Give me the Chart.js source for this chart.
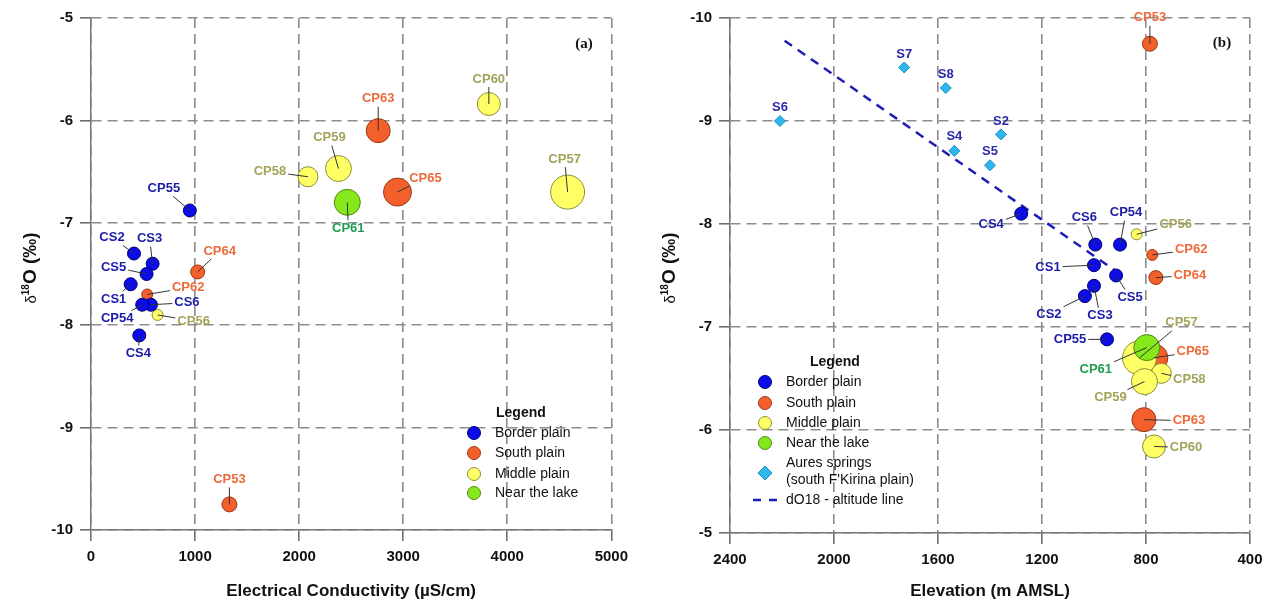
<!DOCTYPE html>
<html>
<head>
<meta charset="utf-8">
<script src="https://cdn.jsdelivr.net/npm/chart.js@4.4.0/dist/chart.umd.min.js"></script>
<style>
    html, body { margin: 0; padding: 0; background: #fff; }
    #wrap { position: relative; width: 1270px; height: 605px; }
    canvas { position: absolute; top: 0; }
</style>
</head>
<body>
<div id="wrap">
    <canvas id="ecChart" width="635" height="605" style="left:0"></canvas>
    <canvas id="elevChart" width="635" height="605" style="left:635px"></canvas>
</div>
<script>
// groundwater samples
var samples   = ['CS1', 'CS2', 'CS3', 'CS4', 'CS5', 'CS6', 'CP54', 'CP55',
                 'CP53', 'CP62', 'CP63', 'CP64', 'CP65',
                 'CP56', 'CP57', 'CP58', 'CP59', 'CP60', 'CP61'];
var zone      = ['border', 'border', 'border', 'border', 'border', 'border', 'border', 'border',
                 'south', 'south', 'south', 'south', 'south',
                 'middle', 'middle', 'middle', 'middle', 'middle', 'lake'];
var ec        = [381, 413, 592, 464, 534, 576, 492, 950,
                 1330, 540, 2760, 1025, 2945,
                 640, 4580, 2085, 2378, 3823, 2463];
var d18O      = [-7.6, -7.3, -7.4, -8.1, -7.5, -7.8, -7.8, -6.88,
                 -9.75, -7.7, -6.1, -7.48, -6.7,
                 -7.9, -6.7, -6.55, -6.47, -5.84, -6.8];
var elevation = [1000, 1035, 1000, 1280, 915, 995, 900, 950,
                 785, 776, 808, 762, 770,
                 836, 825, 741, 806, 769, 797];
var dotSize   = [6.5, 6.5, 6.5, 6.5, 6.5, 6.5, 6.5, 6.5,
                 7.5, 5.5, 12, 7, 14,
                 5.5, 17, 10, 13, 11.5, 13];

// Aures springs (south F'Kirina plain)
var springs    = ['S2', 'S4', 'S5', 'S6', 'S7', 'S8'];
var springElev = [1358, 1537, 1400, 2208, 1730, 1570];
var springD18O = [-8.87, -8.71, -8.57, -9.0, -9.52, -9.32];

// dO18 - altitude line
var lineElev = [2190, 920];
var lineD18O = [-9.78, -7.55];

var ecTicks   = [0, 1000, 2000, 3000, 4000, 5000];
var elevTicks = [2400, 2000, 1600, 1200, 800, 400];
var d18OTicks = [-10, -9, -8, -7, -6, -5];

var zones = [
    { key: 'border', label: 'Border plain', fill: '#0c0ceb', stroke: '#00006a', text: '#1c1ca8', order: 1 },
    { key: 'south',  label: 'South plain',  fill: '#f4602c', stroke: '#973816', text: '#ee6a3c', order: 4 },
    { key: 'middle', label: 'Middle plain', fill: '#ffff66', stroke: '#8c8c3c', text: '#a3a35a', order: 3 },
    { key: 'lake',   label: 'Near the lake', fill: '#86e81a', stroke: '#4c8a10', text: '#1e9c50', order: 2 }
];

function zoneDatasets(xValues) {
    return zones.map(function (z) {
        var pts = [], names = [];
        samples.forEach(function (s, i) {
            if (zone[i] !== z.key) return;
            pts.push({ x: xValues[i], y: d18O[i], r: dotSize[i] });
            names.push(s);
        });
        return {
            type: 'bubble', label: z.label, data: pts, names: names,
            backgroundColor: z.fill, borderColor: z.stroke, borderWidth: 1,
            labelColor: z.text, order: z.order
        };
    });
}

// where each name sits relative to its point
var ecLabelPos = {
    CS2: [-22, -16], CS3: [-3, -25], CS5: [-33, -7], CS1: [-17, 15], CP62: [41, -7],
    CS6: [36, -2], CP54: [-25, 14], CP56: [36, 6], CS4: [-1, 18], CP64: [22, -21],
    CP55: [-26, -22], CP53: [0, -25], CP63: [0, -32], CP60: [0, -25], CP59: [-9, -31],
    CP58: [-38, -5], CP61: [1, 26], CP65: [28, -14], CP57: [-3, -33]
};
var elevLabelPos = {
    CS4: [-30, 11], CS6: [-11, -27], CP54: [6, -32], CP56: [39, -10], CP62: [39, -5],
    CP64: [34, -2], CS1: [-46, 2], CS5: [14, 22], CS3: [6, 30], CS2: [-36, 18],
    CP55: [-37, 0], CP57: [42, -35], CP65: [39, -6], CP61: [-51, 22], CP58: [28, 6],
    CP59: [-34, 16], CP63: [45, 1], CP60: [32, 1], CP53: [0, -26],
    S2: [0, -13], S4: [0, -14], S5: [0, -14], S6: [0, -14], S7: [0, -13], S8: [0, -14]
};

// names + leader lines
var pointLabels = {
    id: 'pointLabels',
    afterDatasetsDraw: function (chart, args, opts) {
        var ctx = chart.ctx;
        ctx.save();
        ctx.font = 'bold 13px Arial';
        ctx.textAlign = 'center';
        ctx.textBaseline = 'middle';
        chart.data.datasets.forEach(function (ds, di) {
            if (!ds.names) return;
            var meta = chart.getDatasetMeta(di);
            ds.names.forEach(function (name, j) {
                var off = opts.pos[name];
                if (!off) return;
                var p = meta.data[j];
                var tx = p.x + off[0], ty = p.y + off[1];
                if (!ds.noLeader) {
                    var hw = ctx.measureText(name).width / 2 + 2, hh = 8;
                    var dx = tx - p.x, dy = ty - p.y;
                    var s = Math.max(Math.abs(dx) / hw, Math.abs(dy) / hh);
                    if (s > 1) {
                        ctx.strokeStyle = '#333';
                        ctx.lineWidth = 1;
                        ctx.beginPath();
                        ctx.moveTo(p.x, p.y);
                        ctx.lineTo(tx - dx / s, ty - dy / s);
                        ctx.stroke();
                    }
                }
                ctx.fillStyle = ds.labelColor;
                ctx.fillText(name, tx, ty);
            });
        });
        ctx.restore();
    }
};

// legend box, y-axis title and panel letter
var panelDecor = {
    id: 'panelDecor',
    afterDraw: function (chart, args, opts) {
        var ctx = chart.ctx;
        ctx.save();
        ctx.textBaseline = 'middle';
        ctx.textAlign = 'left';
        ctx.fillStyle = '#111';
        ctx.font = 'bold 14px Arial';
        ctx.fillText('Legend', opts.legend.titleX, opts.legend.titleY);
        ctx.font = '14px Arial';
        var mx = opts.legend.markerX, tx = opts.legend.textX;
        opts.legend.rows.forEach(function (row) {
            ctx.lineWidth = 1;
            if (row.zone) {
                var z = zones.filter(function (q) { return q.key === row.zone; })[0];
                ctx.fillStyle = z.fill;
                ctx.strokeStyle = z.stroke;
                ctx.beginPath();
                ctx.arc(mx, row.y, 6.5, 0, Math.PI * 2);
                ctx.fill();
                ctx.stroke();
            } else if (row.kind === 'diamond') {
                ctx.fillStyle = '#2fb6ec';
                ctx.strokeStyle = '#1a8fc8';
                ctx.beginPath();
                ctx.moveTo(mx, row.y - 7);
                ctx.lineTo(mx + 7, row.y);
                ctx.lineTo(mx, row.y + 7);
                ctx.lineTo(mx - 7, row.y);
                ctx.closePath();
                ctx.fill();
                ctx.stroke();
            } else if (row.kind === 'dash') {
                ctx.strokeStyle = '#1d1db5';
                ctx.lineWidth = 2.5;
                ctx.setLineDash([8, 8]);
                ctx.beginPath();
                ctx.moveTo(mx - 12, row.y);
                ctx.lineTo(mx + 12, row.y);
                ctx.stroke();
                ctx.setLineDash([]);
            }
            ctx.fillStyle = '#111';
            row.text.forEach(function (t, k) {
                ctx.fillText(t, tx, row.textY ? row.textY[k] : row.y);
            });
        });

        // δ18O (‰), rotated
        ctx.translate(opts.yTitle[0], opts.yTitle[1]);
        ctx.rotate(-Math.PI / 2);
        var parts = [
            { t: 'δ', f: '15px Arial', dy: 0 },
            { t: '18', f: 'bold 10px Arial', dy: -7 },
            { t: 'O (‰)', f: 'bold 19px Arial', dy: 0 }
        ];
        var total = 0;
        parts.forEach(function (p) { ctx.font = p.f; p.w = ctx.measureText(p.t).width; total += p.w; });
        var x = -total / 2;
        ctx.textBaseline = 'alphabetic';
        parts.forEach(function (p) {
            ctx.font = p.f;
            ctx.fillText(p.t, x, 7 + p.dy);
            x += p.w;
        });
        ctx.setTransform(1, 0, 0, 1, 0, 0);

        ctx.font = 'bold 15px "Liberation Serif"';
        ctx.textAlign = 'center';
        ctx.textBaseline = 'middle';
        ctx.fillText(opts.letter[0], opts.letter[1], opts.letter[2]);
        ctx.restore();
    }
};

function axisStyle(tickValues, extra) {
    var s = {
        type: 'linear',
        afterBuildTicks: function (scale) {
            scale.ticks = tickValues.map(function (v) { return { value: v }; });
        },
        grid: { color: '#8c8c8c', lineWidth: 1.6, tickLength: 11, tickColor: '#666', tickWidth: 1.5 },
        border: { color: '#777', width: 1.5, dash: [10, 6] },
        ticks: {
            color: '#111', font: { family: 'Arial', size: 15, weight: 'bold' }, padding: 7,
            callback: function (v) { return String(v); }
        }
    };
    for (var k in extra) s[k] = extra[k];
    return s;
}

Chart.defaults.font.family = 'Arial';

// (a) d18O vs electrical conductivity
new Chart(document.getElementById('ecChart'), {
    type: 'bubble',
    data: { datasets: zoneDatasets(ec) },
    options: {
        responsive: false,
        animation: false,
        events: [],
        layout: { padding: { top: 16, right: 23, left: 0, bottom: 0 } },
        plugins: {
            legend: { display: false },
            tooltip: { enabled: false },
            pointLabels: { pos: ecLabelPos },
            panelDecor: {
                legend: {
                    titleX: 496, titleY: 413, markerX: 474, textX: 495,
                    rows: [
                        { zone: 'border', y: 433, text: ['Border plain'] },
                        { zone: 'south',  y: 453, text: ['South plain'] },
                        { zone: 'middle', y: 474, text: ['Middle plain'] },
                        { zone: 'lake',   y: 493, text: ['Near the lake'] }
                    ]
                },
                yTitle: [29, 268],
                letter: ['(a)', 584, 44]
            }
        },
        scales: {
            x: axisStyle(ecTicks, {
                min: 0, max: 5000,
                afterFit: function (scale) { scale.height = 75; },
                title: { display: true, text: 'Electrical Conductivity (\u00b5S/cm)', color: '#111',
                         font: { size: 17, weight: 'bold' }, padding: { top: 0, bottom: 3 } }
            }),
            y: axisStyle(d18OTicks, {
                min: -10, max: -5,
                afterFit: function (scale) { scale.width = 91; }
            })
        }
    },
    plugins: [pointLabels, panelDecor]
});

// (b) d18O vs elevation
var elevSets = zoneDatasets(elevation);
elevSets.push({
    type: 'bubble', label: 'Aures springs',
    data: springs.map(function (s, i) { return { x: springElev[i], y: springD18O[i], r: 5.5 }; }),
    names: springs, noLeader: true, pointStyle: 'rectRot',
    backgroundColor: '#2fb6ec', borderColor: '#1a8fc8', borderWidth: 1,
    labelColor: '#2a2aa8', order: 0
});
elevSets.push({
    type: 'line', label: 'dO18 - altitude line',
    data: lineElev.map(function (e, i) { return { x: e, y: lineD18O[i] }; }),
    borderColor: '#1d1db5', borderWidth: 2.5, borderDash: [9, 7],
    pointRadius: 0, fill: false, order: 9
});

new Chart(document.getElementById('elevChart'), {
    type: 'bubble',
    data: { datasets: elevSets },
    options: {
        responsive: false,
        animation: false,
        events: [],
        layout: { padding: { top: 16, right: 20, left: 0, bottom: 0 } },
        plugins: {
            legend: { display: false },
            tooltip: { enabled: false },
            pointLabels: { pos: elevLabelPos },
            panelDecor: {
                legend: {
                    titleX: 175, titleY: 362, markerX: 130, textX: 151,
                    rows: [
                        { zone: 'border', y: 382, text: ['Border plain'] },
                        { zone: 'south',  y: 403, text: ['South plain'] },
                        { zone: 'middle', y: 423, text: ['Middle plain'] },
                        { zone: 'lake',   y: 443, text: ['Near the lake'] },
                        { kind: 'diamond', y: 473, text: ['Aures springs', "(south F'Kirina plain)"], textY: [463, 480] },
                        { kind: 'dash', y: 500, text: ['dO18 - altitude line'] }
                    ]
                },
                yTitle: [33, 268],
                letter: ['(b)', 587, 43]
            }
        },
        scales: {
            x: axisStyle(elevTicks, {
                min: 400, max: 2400, reverse: true,
                afterFit: function (scale) { scale.height = 72; },
                title: { display: true, text: 'Elevation (m AMSL)', color: '#111',
                         font: { size: 17, weight: 'bold' }, padding: { top: 0, bottom: 3 } }
            }),
            y: axisStyle(d18OTicks, {
                min: -10, max: -5, reverse: true,
                afterFit: function (scale) { scale.width = 95; }
            })
        }
    },
    plugins: [pointLabels, panelDecor]
});
</script>
</body>
</html>
